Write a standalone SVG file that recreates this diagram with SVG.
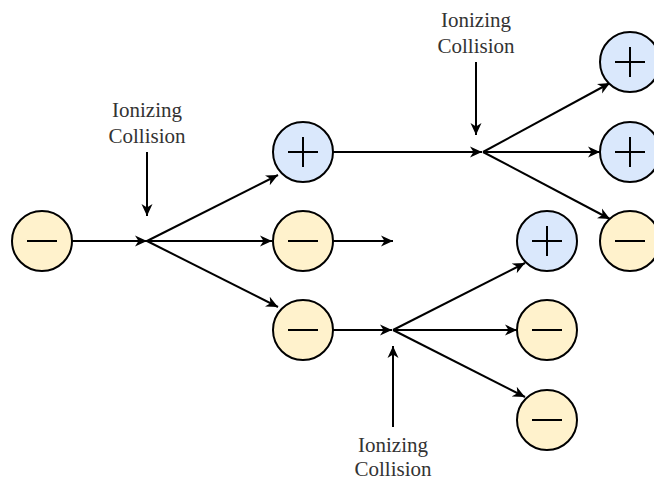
<svg xmlns="http://www.w3.org/2000/svg" width="654" height="481" viewBox="0 0 654 481">
<style>
.pos{fill:#dae8fc;stroke:#000;stroke-width:2}
.neg{fill:#fff2cc;stroke:#000;stroke-width:2}
.sign{stroke:#000;stroke-width:2;fill:none}
.edge{stroke:#000;stroke-width:2;fill:none;marker-end:url(#arr)}
.lbl{font-family:"Liberation Serif","Times New Roman",serif;font-size:21px;fill:#333;text-anchor:middle}
</style>
<defs>
<marker id="arr" markerUnits="userSpaceOnUse" markerWidth="14" markerHeight="12" viewBox="0 0 14 12" refX="12" refY="6" orient="auto">
<path d="M0,0.5 L12,6 L0,11.5 L3.5,6 Z" fill="#000"/>
</marker>
</defs>
<rect width="654" height="481" fill="#fff"/>
<g id="connectors">
<line class="edge" x1="72" y1="241" x2="147" y2="241"/>
<line class="edge" x1="147" y1="241" x2="278" y2="175"/>
<line class="edge" x1="147" y1="241" x2="272" y2="241"/>
<line class="edge" x1="147" y1="241" x2="278" y2="307"/>
<line class="edge" x1="147" y1="152" x2="147" y2="216"/>
<line class="edge" x1="333" y1="241" x2="393" y2="241"/>
<line class="edge" x1="333" y1="152" x2="482" y2="152"/>
<line class="edge" x1="476" y1="62" x2="476" y2="135"/>
<line class="edge" x1="483" y1="152" x2="610" y2="83"/>
<line class="edge" x1="483" y1="152" x2="600" y2="152"/>
<line class="edge" x1="483" y1="152" x2="610" y2="219"/>
<line class="edge" x1="333" y1="330" x2="392" y2="330"/>
<line class="edge" x1="393" y1="427" x2="393" y2="346"/>
<line class="edge" x1="393" y1="330" x2="525" y2="263"/>
<line class="edge" x1="393" y1="330" x2="517" y2="330"/>
<line class="edge" x1="393" y1="330" x2="525" y2="397"/>
</g>
<g id="n_start"><circle class="neg" cx="42" cy="241" r="30"/><line class="sign" x1="27" y1="241" x2="57" y2="241"/></g>
<g id="n_pos1"><circle class="pos" cx="303" cy="152" r="30"/><line class="sign" x1="288" y1="152" x2="318" y2="152"/><line class="sign" x1="303" y1="137" x2="303" y2="167"/></g>
<g id="n_neg1"><circle class="neg" cx="303" cy="241" r="30"/><line class="sign" x1="288" y1="241" x2="318" y2="241"/></g>
<g id="n_neg2"><circle class="neg" cx="303" cy="330" r="30"/><line class="sign" x1="288" y1="330" x2="318" y2="330"/></g>
<g id="n_pos2"><circle class="pos" cx="630" cy="62" r="30"/><line class="sign" x1="615" y1="62" x2="645" y2="62"/><line class="sign" x1="630" y1="47" x2="630" y2="77"/></g>
<g id="n_pos3"><circle class="pos" cx="630" cy="152" r="30"/><line class="sign" x1="615" y1="152" x2="645" y2="152"/><line class="sign" x1="630" y1="137" x2="630" y2="167"/></g>
<g id="n_neg3"><circle class="neg" cx="630" cy="241" r="30"/><line class="sign" x1="615" y1="241" x2="645" y2="241"/></g>
<g id="n_pos4"><circle class="pos" cx="547" cy="241" r="30"/><line class="sign" x1="532" y1="241" x2="562" y2="241"/><line class="sign" x1="547" y1="226" x2="547" y2="256"/></g>
<g id="n_neg4"><circle class="neg" cx="547" cy="330" r="30"/><line class="sign" x1="532" y1="330" x2="562" y2="330"/></g>
<g id="n_neg5"><circle class="neg" cx="547" cy="420" r="30"/><line class="sign" x1="532" y1="420" x2="562" y2="420"/></g>
<g id="lbl1"><text class="lbl" x="147" y="117">Ionizing</text><text class="lbl" x="147" y="143">Collision</text></g>
<g id="lbl2"><text class="lbl" x="476" y="27">Ionizing</text><text class="lbl" x="476" y="53">Collision</text></g>
<g id="lbl3"><text class="lbl" x="393" y="452">Ionizing</text><text class="lbl" x="393" y="476">Collision</text></g>
</svg>
